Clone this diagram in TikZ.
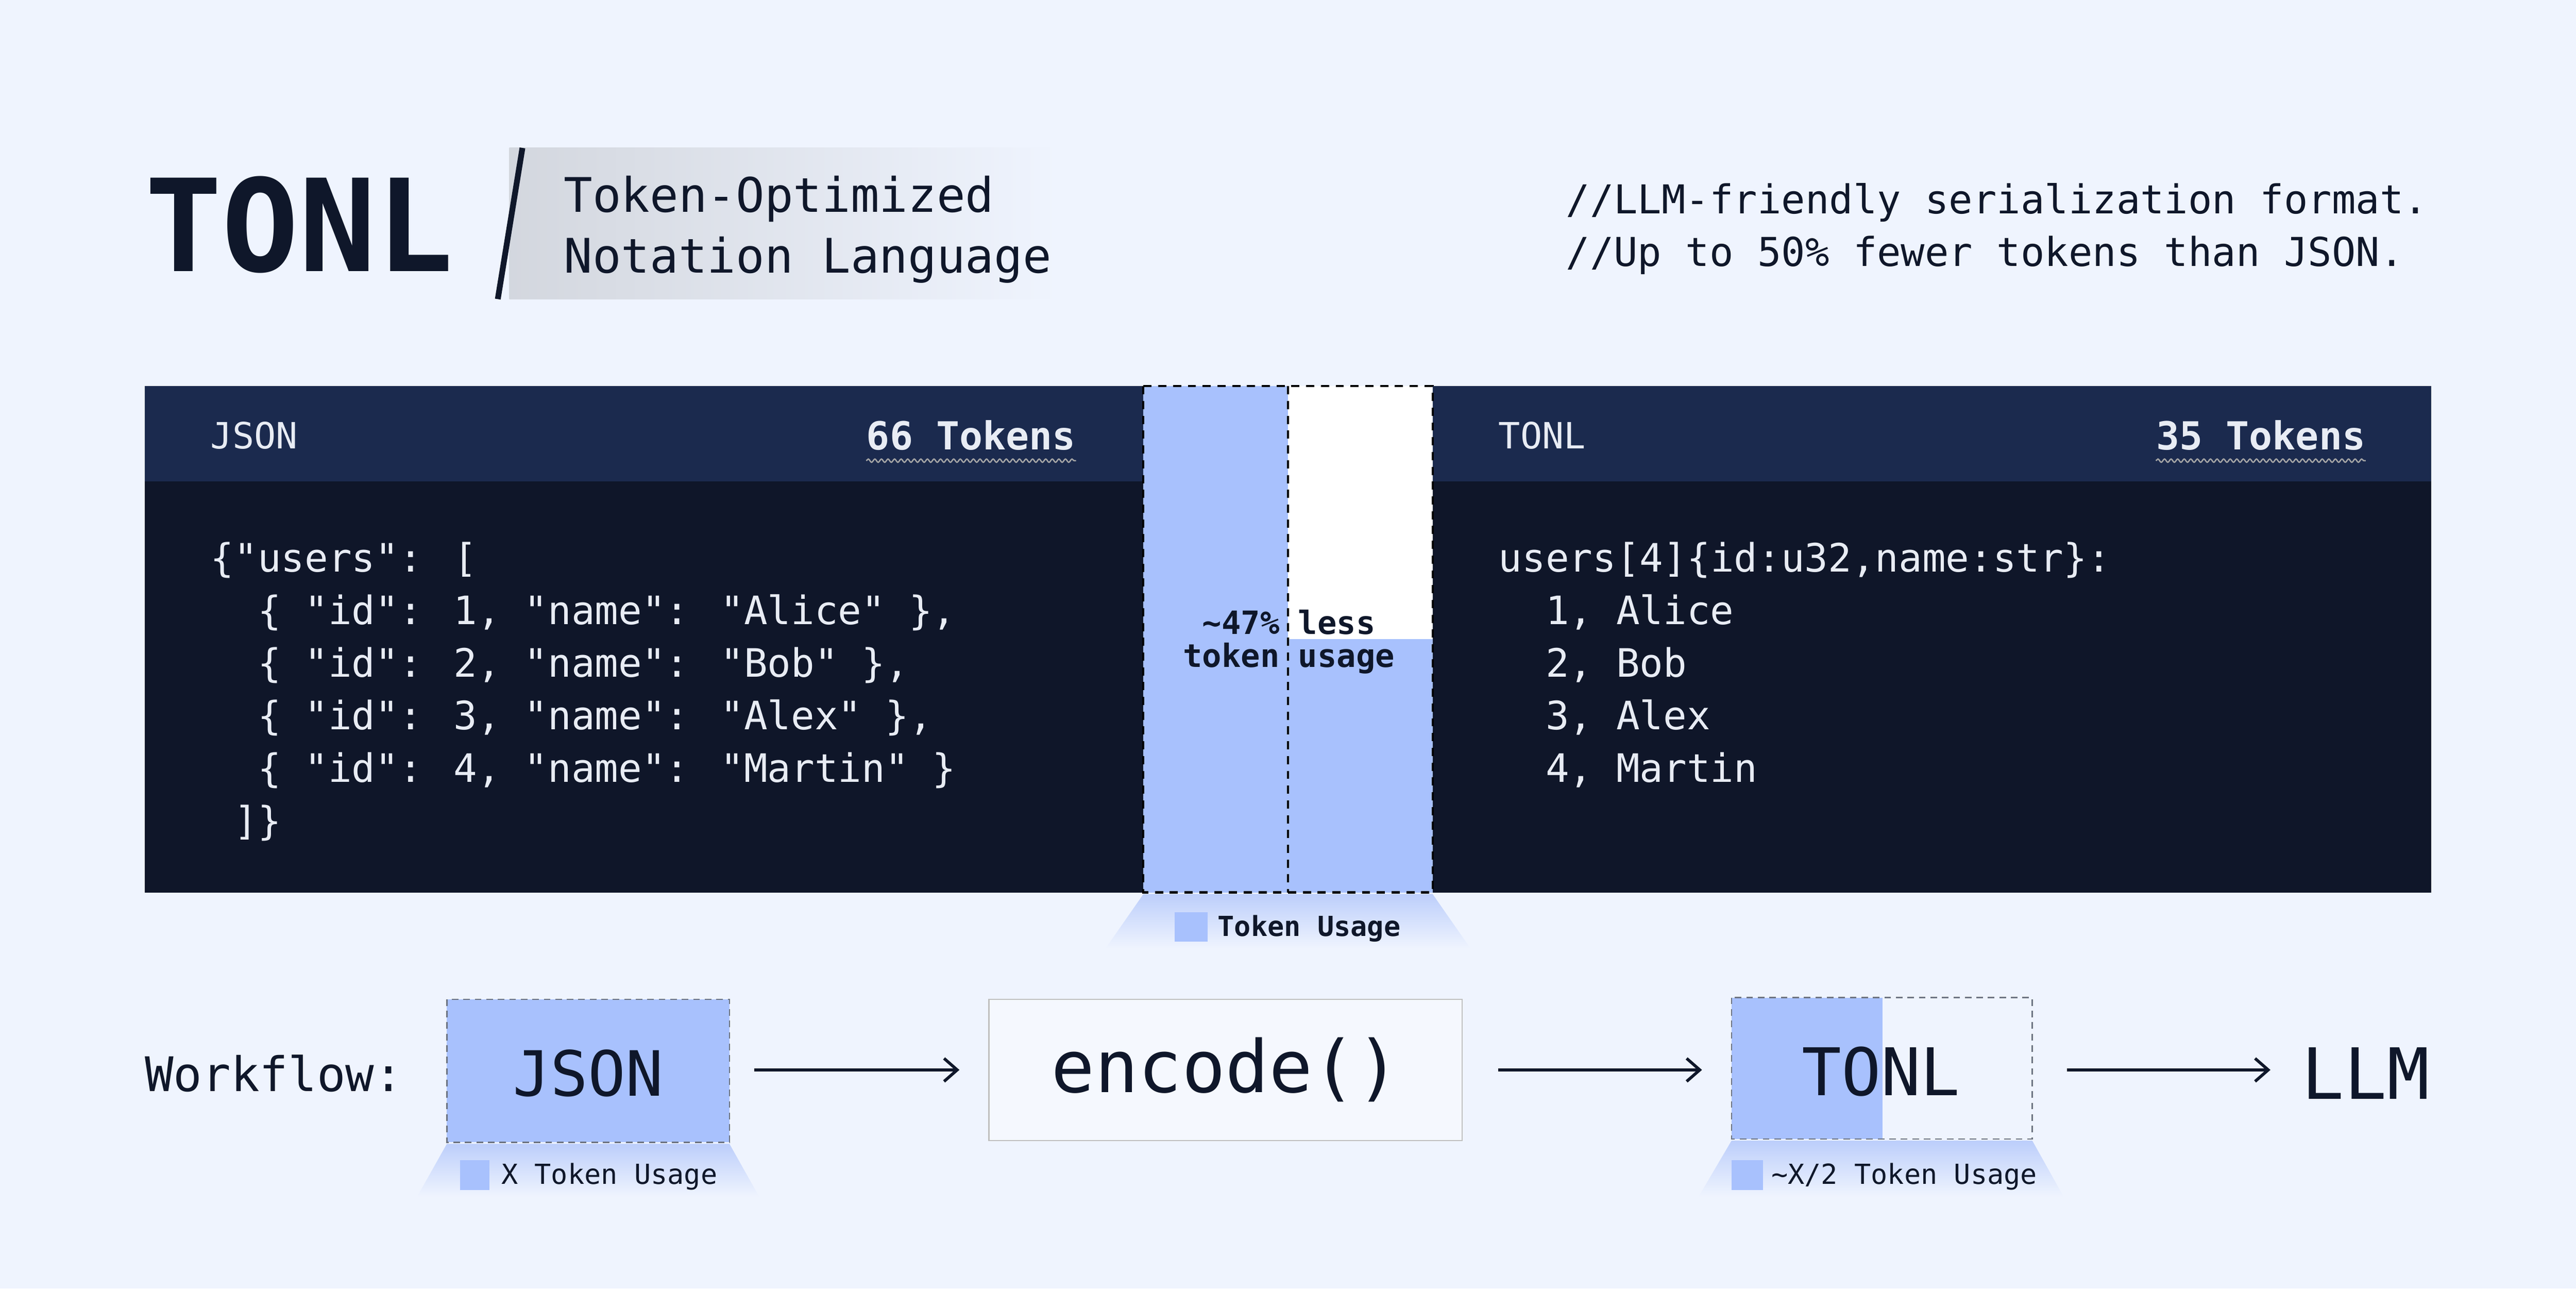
\documentclass[tikz,border=0pt]{standalone}
\usepackage{fontspec}
\usetikzlibrary{arrows.meta,decorations.pathmorphing}
\newfontfamily\mono{DejaVu Sans Mono}
\definecolor{bg}{HTML}{EFF4FE}
\definecolor{ink}{HTML}{0F172A}
\definecolor{hdr}{HTML}{1B2A4E}
\definecolor{body}{HTML}{0F1629}
\definecolor{tok}{HTML}{A8C1FD}
\definecolor{glow}{HTML}{BCCEFB}
\definecolor{codec}{HTML}{E8ECF4}
\definecolor{dgray}{HTML}{6B7280}
\tikzset{
  code/.style={anchor=base west,inner sep=0pt,text=codec,font=\mono\fontsize{23.8}{28}\selectfont},
  hdrtxt/.style={inner sep=0pt,text=codec,font=\mono\fontsize{22}{26}\selectfont},
  hdrbold/.style={inner sep=0pt,text=codec,font=\mono\bfseries\fontsize{23.5}{26}\selectfont},
  wavy/.style={draw=gray!70,line width=0.8pt,decorate,decoration={snake,amplitude=1pt,segment length=4pt}},
  pct/.style={inner sep=0pt,text=ink,font=\mono\bfseries\fontsize{19.5}{20}\selectfont},
  legend/.style={inner sep=0pt,text=ink,anchor=west},
  wfarrow/.style={draw=ink,line width=1.8pt,-{Straight Barb[length=8pt,width=14pt,line width=1.8pt]}},
  wftext/.style={inner sep=0pt,text=ink},
}
\begin{document}
\begin{tikzpicture}[x=1pt,y=-1pt]
\useasboundingbox (0,0) rectangle (1568,784);
\fill[bg] (0,0) rectangle (1568,784);
% title
\shade[left color=gray!25!bg,right color=bg] (310,90) rectangle (645,182);
\draw[ink,line width=3.5pt] (318,90) -- (303,182);
\node[wftext,anchor=base west,font=\mono\bfseries\fontsize{78}{80}\selectfont] (title) at (88,165) {TONL};
\node[wftext,anchor=base west,font=\mono\fontsize{29}{32}\selectfont] (sub1) at (343,129) {Token-Optimized};
\node[wftext,anchor=base west,font=\mono\fontsize{29}{32}\selectfont] (sub2) at (343,166) {Notation Language};
\node[wftext,anchor=base west,font=\mono\fontsize{24.2}{28}\selectfont] (c1) at (953,130) {//LLM-friendly serialization format.};
\node[wftext,anchor=base west,font=\mono\fontsize{24.2}{28}\selectfont] (c2) at (953,162) {//Up to 50\% fewer tokens than JSON.};
% panels
\fill[hdr] (88,235) rectangle (696,293);
\fill[body] (88,293) rectangle (696,543);
\fill[hdr] (872,235) rectangle (1480,293);
\fill[body] (872,293) rectangle (1480,543);
\node[hdrtxt,anchor=west] (jh) at (128,265) {JSON};
\node[hdrbold,anchor=east] (jt) at (655,265) {66 Tokens};
\draw[wavy] ([yshift=-6pt]jt.south west) -- ([yshift=-6pt]jt.south east);
\node[hdrtxt,anchor=west] (th) at (912,265) {TONL};
\node[hdrbold,anchor=east] (tt) at (1440,265) {35 Tokens};
\draw[wavy] ([yshift=-6pt]tt.south west) -- ([yshift=-6pt]tt.south east);
% json code
\node[code] (j1) at (128,348) {\{"users": [};
\node[code] (j2) at (156.6,380) {\{ "id": 1, "name": "Alice" \},};
\node[code] (j3) at (156.6,412) {\{ "id": 2, "name": "Bob" \},};
\node[code] (j4) at (156.6,444) {\{ "id": 3, "name": "Alex" \},};
\node[code] (j5) at (156.6,476) {\{ "id": 4, "name": "Martin" \}};
\node[code] (j6) at (142.3,508) {]\}};
% tonl code
\node[code] (t1) at (912,348) {users[4]\{id:u32,name:str\}:};
\node[code] (t2) at (940.6,380) {1, Alice};
\node[code] (t3) at (940.6,412) {2, Bob};
\node[code] (t4) at (940.6,444) {3, Alex};
\node[code] (t5) at (940.6,476) {4, Martin};
% middle bar
\fill[tok] (696,235) rectangle (872,543);
\fill[white] (784,235) rectangle (872,389);
\draw[black,line width=1.3pt,dash pattern=on 5pt off 4pt] (696,235) rectangle (872,543);
\draw[black,line width=1.3pt,dash pattern=on 5pt off 4pt] (784,235) -- (784,543);
\node[pct,anchor=base east] (p1) at (779,386) {\textasciitilde47\%};
\node[pct,anchor=base west] (p2) at (790,386) {less};
\node[pct,anchor=base east] (p3) at (779,406) {token};
\node[pct,anchor=base west] (p4) at (790,406) {usage};
% glow under bar
\shade[top color=glow,bottom color=bg] (696,544) -- (872,544) -- (895,577) -- (673,577) -- cycle;
\fill[tok] (715,555) rectangle (735,573);
\node[legend,font=\mono\bfseries\fontsize{16.8}{18}\selectfont] (lg1) at (741,565) {Token Usage};
% workflow
\node[wftext,anchor=west,font=\mono\fontsize{29}{32}\selectfont] (wf) at (88,653) {Workflow:};
\fill[tok] (272,608) rectangle (444,695);
\draw[dgray,line width=0.8pt,dash pattern=on 4pt off 3pt] (272,608) rectangle (444,695);
\node[wftext,font=\mono\fontsize{38}{40}\selectfont] (jbox) at (358,653) {JSON};
\shade[top color=glow,bottom color=bg] (272,696) -- (444,696) -- (462,728) -- (254,728) -- cycle;
\fill[tok] (280,706) rectangle (298,724);
\node[legend,font=\mono\fontsize{16.8}{18}\selectfont] (lg2) at (305,716) {X Token Usage};
\node[draw=gray!50,line width=0.8pt,fill=bg!60!white,minimum width=288pt,minimum height=86pt,inner sep=0pt,text=ink,font=\mono\fontsize{44}{46}\selectfont] (enc) at (746,651) {encode()};
\fill[tok] (1054,607) rectangle (1146,693);
\draw[dgray,line width=0.8pt,dash pattern=on 4pt off 3pt] (1054,607) rectangle (1237,693);
\node[wftext,font=\mono\fontsize{40}{42}\selectfont] (tbox) at (1145,652) {TONL};
\shade[top color=glow,bottom color=bg] (1054,694) -- (1237,694) -- (1256,728) -- (1034,728) -- cycle;
\fill[tok] (1054,706) rectangle (1073,724);
\node[legend,font=\mono\fontsize{16.8}{18}\selectfont] (lg3) at (1078,716) {\textasciitilde X/2 Token Usage};
\node[wftext,anchor=east,font=\mono\fontsize{43}{46}\selectfont] (llm) at (1479,653) {LLM};
\coordinate (a1s) at (459,651); \coordinate (a1e) at (584,651);
\draw[wfarrow] (a1s) -- (a1e);
\coordinate (a2s) at (912,651); \coordinate (a2e) at (1036,651);
\draw[wfarrow] (a2s) -- (a2e);
\coordinate (a3s) at (1258,651); \coordinate (a3e) at (1382,651);
\draw[wfarrow] (a3s) -- (a3e);
\end{tikzpicture}
\end{document}
